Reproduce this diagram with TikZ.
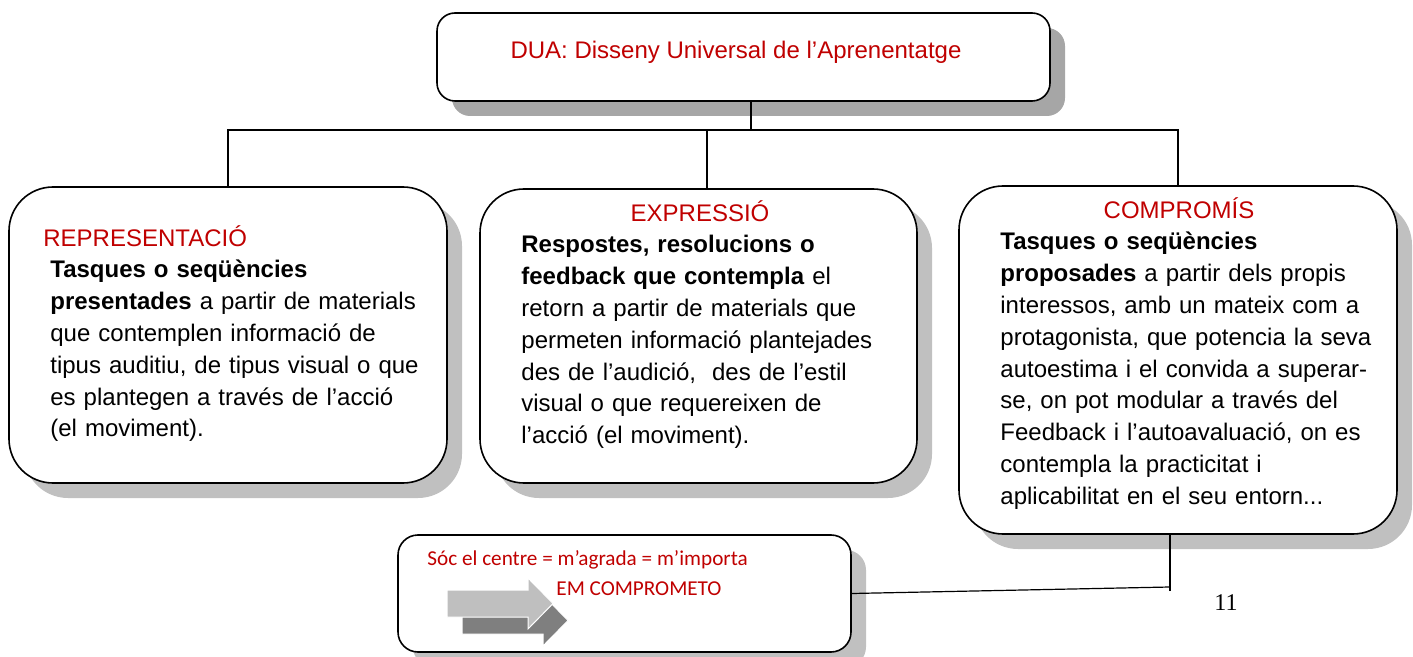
\documentclass[tikz,border=0pt]{standalone}
\usepackage{fontspec}
\setmainfont{Liberation Sans}
\newfontfamily\calibri{Carlito}
\newfontfamily\timesf{Liberation Serif}
\usetikzlibrary{shadows}
\definecolor{duared}{RGB}{192,0,0}
\definecolor{shadegray}{RGB}{192,192,192}
\definecolor{darkshade}{RGB}{166,166,166}
\definecolor{arrowlight}{RGB}{191,191,191}
\definecolor{arrowdark}{RGB}{127,127,127}

\begin{document}
\begin{tikzpicture}[
	x=0.5pt,
	y=-0.5pt,
	boxshadow/.style={drop shadow={shadow xshift=7.5pt,shadow yshift=-7.5pt,fill=#1,opacity=1}},
	box/.style={draw,line width=0.8pt,fill=white,rounded corners=22pt,boxshadow=#1},
	box/.default=shadegray,
	headline/.style={text=duared,font=\fontsize{12pt}{14pt}\selectfont,inner sep=0pt},
	body/.style={text width=190pt,align=left,inner sep=0pt,font=\fontsize{12pt}{15.9pt}\selectfont},
	note/.style={text=duared,font=\calibri\fontsize{10.6pt}{13pt}\selectfont,inner sep=0pt},
	link/.style={line width=0.6pt}
	]
	\useasboundingbox (0,0) rectangle (1413,657);
	\node[box=darkshade,rounded corners=9pt,minimum width=306.5pt,minimum height=44pt] (dua) at (743.5,57) {};
	\node[box,minimum width=219pt,minimum height=148pt] (repr) at (228,335) {};
	\node[box,minimum width=218.5pt,minimum height=147pt] (expr) at (698.5,336) {};
	\node[box,minimum width=219pt,minimum height=174pt] (comp) at (1178,360) {};
	\node[box,rounded corners=10pt,minimum width=226.5pt,minimum height=58.5pt] (soc) at (624.5,593.5) {};

	\node[headline,anchor=base] (duatitle) at (736,59) {DUA: Disseny Universal de l’Aprenentatge};
	\node[headline,anchor=base west] (reprtitle) at (43,247) {REPRESENTACIÓ};
	\node[body,anchor=base west] (reprtext) at (50,278) {\textbf{Tasques o seqüències}\\
		\textbf{presentades} a partir de materials\\
		que contemplen informació de\\
		tipus auditiu, de tipus visual o que\\
		es plantegen a través de l’acció\\
		(el moviment).};
	\node[headline,anchor=base] (exprtitle) at (700,222) {EXPRESSIÓ};
	\node[body,anchor=base west] (exprtext) at (521,253) {\textbf{Respostes, resolucions o}\\
		\textbf{feedback que contempla} el\\
		retorn a partir de materials que\\
		permeten informació plantejades\\
		des de l’audició,\ \ des de l’estil\\
		visual o que requereixen de\\
		l’acció (el moviment).};
	\node[headline,anchor=base] (comptitle) at (1179,219) {COMPROMÍS};
	\node[body,anchor=base west] (comptext) at (1000,250) {\textbf{Tasques o seqüències}\\
		\textbf{proposades} a partir dels propis\\
		interessos, amb un mateix com a\\
		protagonista, que potencia la seva\\
		autoestima i el convida a superar-\\
		se, on pot modular a través del\\
		Feedback i l’autoavaluació, on es\\
		contempla la practicitat i\\
		aplicabilitat en el seu entorn...};

	\foreach \dx/\dy/\col in {15/17/arrowdark,0/0/arrowlight}
		\filldraw[fill=\col,draw=white,line width=0.5pt,shift={(\dx,\dy)}] (447,590) -- (528,590) -- (528,578) -- (553,603.5) -- (528,629) -- (528,617) -- (447,617) -- cycle;
	\node[note,anchor=base west] (socline) at (427,565) {Sóc el centre = m’agrada = m’importa};
	\node[note,anchor=base west] (commit) at (556,595) {EM COMPROMETO};

	\coordinate (hub) at (751,130);
	\coordinate (knee) at (1170,587);
	\draw[link] (hub |- dua.south) -- (hub);
	\draw[link] (repr.north) |- (hub) -| (comp.north);
	\draw[link] ([xshift=4.25pt]expr.north) |- (hub);
	\draw[link] (soc.east) -- (knee);
	\draw[link] ([yshift=-2pt]knee) -- (knee |- comp.south);

	\node[font=\timesf\fontsize{12pt}{14pt}\selectfont,anchor=base,inner sep=0pt] (pagenum) at (1226,610) {11};
\end{tikzpicture}
\end{document}
